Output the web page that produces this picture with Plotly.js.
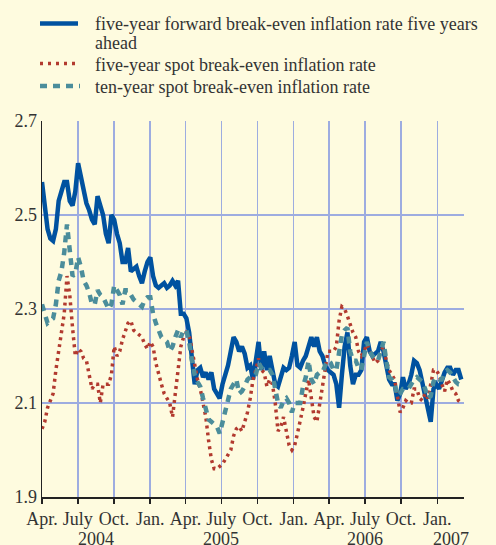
<!DOCTYPE html>
<html><head><meta charset="utf-8">
<script src="https://cdn.plot.ly/plotly-3.0.1.min.js"></script>
<style>html,body{margin:0;padding:0;background:#FEFBDF;}#chart{width:496px;height:545px;}</style>
</head><body><div id="chart"></div>
<script>
const startDate = '2004-04-01';
const stepDays = 7.06;
const forwardRate = [2.57,2.52,2.47,2.45,2.445,2.47,2.53,2.55,2.57,2.57,
2.53,2.52,2.55,2.61,2.58,2.555,2.525,2.51,2.49,2.48,
2.54,2.52,2.50,2.46,2.44,2.50,2.49,2.46,2.44,2.40,
2.40,2.43,2.38,2.385,2.39,2.37,2.355,2.38,2.40,2.41,
2.37,2.35,2.345,2.35,2.355,2.345,2.35,2.36,2.35,2.36,
2.29,2.29,2.28,2.25,2.19,2.14,2.17,2.175,2.155,2.165,
2.15,2.165,2.13,2.12,2.11,2.14,2.16,2.18,2.21,2.24,
2.23,2.21,2.22,2.205,2.175,2.18,2.15,2.19,2.23,2.17,
2.21,2.17,2.20,2.17,2.14,2.135,2.16,2.175,2.17,2.175,
2.20,2.23,2.18,2.175,2.19,2.20,2.22,2.24,2.22,2.24,
2.21,2.20,2.18,2.17,2.165,2.16,2.14,2.09,2.16,2.22,
2.25,2.18,2.14,2.16,2.16,2.17,2.23,2.24,2.21,2.20,
2.205,2.21,2.23,2.21,2.18,2.15,2.14,2.14,2.105,2.12,
2.155,2.13,2.14,2.16,2.19,2.185,2.17,2.145,2.12,2.09,
2.06,2.13,2.14,2.13,2.15,2.165,2.175,2.175,2.16,2.17,
2.17,2.15];
const spot5 = [2.045,2.06,2.09,2.105,2.12,2.17,2.21,2.25,2.29,2.37,
2.33,2.26,2.20,2.215,2.21,2.195,2.19,2.16,2.13,2.14,
2.14,2.10,2.14,2.14,2.14,2.16,2.22,2.20,2.21,2.235,
2.25,2.27,2.275,2.255,2.25,2.245,2.24,2.225,2.215,2.23,
2.22,2.185,2.16,2.14,2.12,2.11,2.10,2.07,2.12,2.17,
2.22,2.24,2.25,2.245,2.21,2.18,2.15,2.13,2.10,2.07,
2.02,1.98,1.96,1.96,1.965,1.97,1.98,1.99,2.00,2.03,
2.045,2.05,2.04,2.06,2.08,2.11,2.15,2.17,2.195,2.17,
2.165,2.135,2.15,2.14,2.10,2.04,2.05,2.07,2.04,2.01,
2.00,2.01,2.035,2.06,2.09,2.12,2.15,2.11,2.07,2.06,
2.10,2.14,2.175,2.21,2.21,2.21,2.22,2.275,2.305,2.30,
2.285,2.265,2.25,2.24,2.21,2.20,2.21,2.225,2.21,2.195,
2.185,2.19,2.21,2.22,2.19,2.17,2.16,2.15,2.115,2.08,
2.09,2.105,2.10,2.10,2.13,2.13,2.11,2.105,2.12,2.11,
2.14,2.17,2.17,2.16,2.14,2.125,2.15,2.14,2.125,2.12,
2.105,2.10];
const spot10 = [2.31,2.29,2.27,2.275,2.28,2.31,2.36,2.38,2.42,2.48,
2.42,2.37,2.375,2.41,2.39,2.36,2.35,2.335,2.31,2.31,
2.34,2.33,2.325,2.31,2.30,2.31,2.35,2.34,2.33,2.31,
2.34,2.34,2.33,2.32,2.315,2.31,2.305,2.32,2.325,2.325,
2.29,2.27,2.255,2.24,2.235,2.23,2.21,2.22,2.24,2.255,
2.24,2.255,2.255,2.23,2.19,2.16,2.145,2.135,2.11,2.09,
2.065,2.06,2.055,2.05,2.035,2.06,2.08,2.10,2.13,2.14,
2.15,2.12,2.125,2.135,2.15,2.155,2.155,2.16,2.185,2.175,
2.17,2.17,2.17,2.16,2.13,2.10,2.09,2.105,2.11,2.10,
2.08,2.10,2.10,2.10,2.135,2.155,2.19,2.15,2.14,2.16,
2.165,2.165,2.18,2.19,2.185,2.17,2.17,2.21,2.245,2.255,
2.26,2.21,2.19,2.19,2.175,2.17,2.205,2.23,2.21,2.20,
2.195,2.19,2.21,2.23,2.19,2.155,2.15,2.14,2.115,2.12,
2.13,2.13,2.13,2.14,2.15,2.155,2.15,2.145,2.13,2.11,
2.115,2.145,2.155,2.15,2.15,2.165,2.17,2.165,2.155,2.145,
2.14,2.14];
const seriesNames = ['five-year forward break-even inflation rate five years','five-year spot break-even inflation rate','ten-year spot break-even inflation rate'];
const tickDates = ['2004-04-01','2004-07-01','2004-10-01','2005-01-01','2005-04-01','2005-07-01','2005-10-01','2006-01-01','2006-04-01','2006-07-01','2006-10-01','2007-01-01'];
const tickLabels = ['Apr.','July','Oct.','Jan.','Apr.','July','Oct.','Jan.','Apr.','July','Oct.','Jan.'];
const yearLabels = ['2004','2005','2006','2007'];
const yearDates = ['2004-08-16','2005-07-01','2006-07-01','2007-02-04'];
const yTicks = [1.9,2.1,2.3,2.5,2.7];

function weekDates(n){
  const out=[]; const t0=Date.parse(startDate+'T00:00:00Z');
  for(let i=0;i<n;i++){ out.push(new Date(t0+Math.round(i*stepDays*24)*3600000).toISOString().slice(0,19).replace('T',' ')); }
  return out;
}
const dates = weekDates(forwardRate.length);

const FONT = '"Liberation Serif", "Times New Roman", Times, serif';
const TXT = '#333333';
const BLUE = '#0052A0', RED = '#B23A2F', TEAL = '#4B8D9B';

const traces = [
  {x:dates, y:forwardRate, type:'scatter', mode:'lines', line:{color:BLUE, width:4.5}, name:seriesNames[0], showlegend:false},
  {x:dates, y:spot5, type:'scatter', mode:'lines', line:{color:RED, width:3.5, dash:'3px,4px'}, name:seriesNames[1], showlegend:false},
  {x:dates, y:spot10, type:'scatter', mode:'lines', line:{color:TEAL, width:4.5, dash:'7px,6px'}, name:seriesNames[2], showlegend:false}
];

const L=42, R=32, T=121, B=48, W=496, H=545;
const pw=W-L-R, ph=H-T-B;
const px=x=>(x-L)/pw, py=y=>(H-B-y)/ph;

const shapes = [
  {type:'line', xref:'paper', yref:'paper', x0:px(40), x1:px(78), y0:py(23.5), y1:py(23.5), line:{color:BLUE, width:4.5}},
  {type:'line', xref:'paper', yref:'paper', x0:px(40), x1:px(80), y0:py(63.5), y1:py(63.5), line:{color:RED, width:3.5, dash:'3px,5px'}},
  {type:'line', xref:'paper', yref:'paper', x0:px(40), x1:px(80), y0:py(86), y1:py(86), line:{color:TEAL, width:4.5, dash:'7px,6px'}}
];
const annotations = [
  {text:seriesNames[0], x:px(93), y:py(24), xanchor:'left', yanchor:'middle'},
  {text:'ahead', x:px(93), y:py(43), xanchor:'left', yanchor:'middle'},
  {text:seriesNames[1], x:px(93), y:py(65), xanchor:'left', yanchor:'middle'},
  {text:seriesNames[2], x:px(93), y:py(87), xanchor:'left', yanchor:'middle'}
].map(a=>Object.assign(a,{xref:'paper', yref:'paper', showarrow:false, font:{family:FONT, size:18, color:TXT}}));
yearLabels.forEach((t,i)=>annotations.push({text:t, x:yearDates[i], xref:'x', yref:'paper', y:py(539), yanchor:'middle', xanchor:'center', showarrow:false, font:{family:FONT, size:18, color:TXT}}));

const layout = {
  width:W, height:H,
  margin:{l:L, r:R, t:T, b:B, pad:0},
  paper_bgcolor:'#FEFBDF', plot_bgcolor:'#FEFBDF',
  font:{family:FONT, size:18, color:TXT},
  showlegend:false,
  xaxis:{type:'date', range:['2004-04-01','2007-03-10'], tickmode:'array', tickvals:tickDates, ticktext:tickLabels,
    showgrid:true, gridcolor:'#9DACE0', gridwidth:1.5, zeroline:false,
    showline:true, linecolor:'#222', linewidth:1.5, ticks:'outside', ticklen:5, tickwidth:1.5, tickcolor:'#222',
    tickfont:{family:FONT, size:18, color:TXT}},
  yaxis:{range:[1.9,2.7], tickmode:'array', tickvals:yTicks, ticktext:yTicks.map(v=>v.toFixed(1)),
    showgrid:true, gridcolor:'#9DACE0', gridwidth:1.5, zeroline:false,
    showline:true, linecolor:'#222', linewidth:1.5, ticks:'', tickfont:{family:FONT, size:18, color:TXT}},
  yaxis2:{range:[1.9,2.7], overlaying:'y', side:'right', tickmode:'array', tickvals:yTicks, ticktext:yTicks.map(v=>v.toFixed(1)),
    showgrid:false, zeroline:false, showline:true, linecolor:'#222', linewidth:1.5, ticks:'', tickfont:{family:FONT, size:18, color:TXT}},
  shapes:shapes, annotations:annotations
};
Plotly.newPlot('chart', traces, layout, {displayModeBar:false, staticPlot:true});
</script></body></html>
